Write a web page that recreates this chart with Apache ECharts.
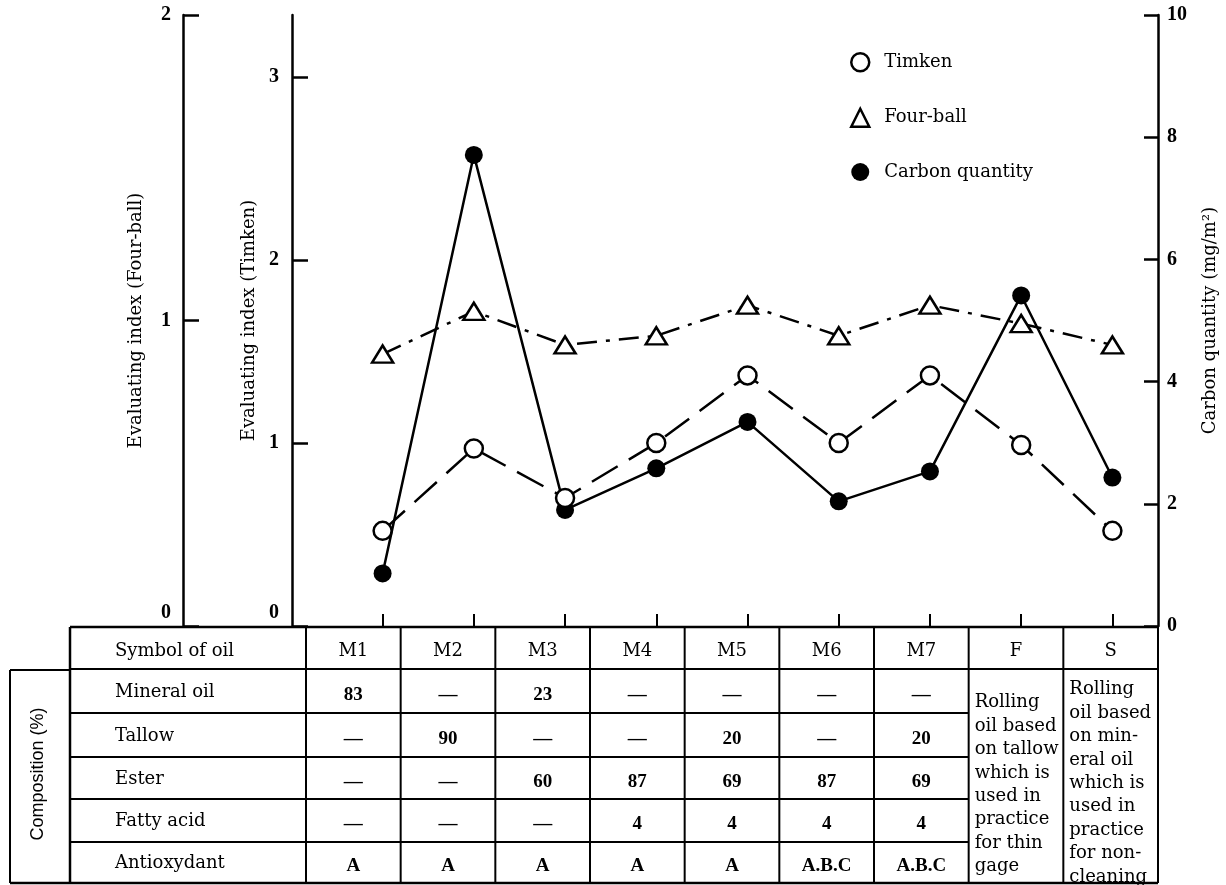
<!DOCTYPE html>
<html>
<head>
<meta charset="utf-8">
<script src="https://cdn.jsdelivr.net/npm/echarts@6/dist/echarts.min.js"></script>
<style>
  html, body { margin: 0; padding: 0; background: #fff; }
  #main { width: 1226px; height: 885px; }
</style>
</head>
<body>
<div id="main"></div>
<script>
  // data
  var oils = ['M1', 'M2', 'M3', 'M4', 'M5', 'M6', 'M7', 'F', 'S'];
  var timken = [0.52, 0.97, 0.70, 1.00, 1.37, 1.00, 1.37, 0.99, 0.52];
  var fourBall = [0.89, 1.03, 0.92, 0.95, 1.05, 0.95, 1.05, 0.99, 0.92];
  var carbon = [0.86, 7.71, 1.90, 2.58, 3.34, 2.04, 2.53, 5.41, 2.43];
  var fourBallTicks = [0, 1, 2];
  var timkenTicks = [0, 1, 2, 3];
  var carbonTicks = [0, 2, 4, 6, 8, 10];

  // composition table
  var rowNames = ['Mineral oil', 'Tallow', 'Ester', 'Fatty acid', 'Antioxydant'];
  var mineralOil = ['83', '—', '23', '—', '—', '—', '—'];
  var tallow = ['—', '90', '—', '—', '20', '—', '20'];
  var ester = ['—', '—', '60', '87', '69', '87', '69'];
  var fattyAcid = ['—', '—', '—', '4', '4', '4', '4'];
  var antioxydant = ['A', 'A', 'A', 'A', 'A', 'A.B.C', 'A.B.C'];
  var noteF = ['Rolling', 'oil based', 'on tallow', 'which is', 'used in', 'practice', 'for thin', 'gage'];
  var noteS = ['Rolling', 'oil based', 'on min-', 'eral oil', 'which is', 'used in', 'practice', 'for non-', 'cleaning'];

  var serif = '"DejaVu Serif", "Liberation Serif", serif';
  var numSerif = '"Liberation Serif", "DejaVu Serif", serif';
  var sans = '"Liberation Sans", Arial, sans-serif';

  var chart = echarts.init(document.getElementById('main'));

  // table layout
  var tbl = {
    boxLeft: 10, left: 70, labelRight: 306, right: 1158,
    rows: [627, 669, 713, 757, 799, 842, 883]
  };
  tbl.colW = (tbl.right - tbl.labelRight) / oils.length;
  function colLeft(i) { return tbl.labelRight + i * tbl.colW; }

  var g = [];
  function hline(y, x1, x2, w) {
    g.push({ type: 'line', silent: true, shape: { x1: x1, y1: y, x2: x2, y2: y }, style: { stroke: '#000', lineWidth: w || 2 } });
  }
  function vline(x, y1, y2, w) {
    g.push({ type: 'line', silent: true, shape: { x1: x, y1: y1, x2: x, y2: y2 }, style: { stroke: '#000', lineWidth: w || 2 } });
  }
  function txt(s, x, y, opt) {
    g.push({
      type: 'text', silent: true, x: x, y: y,
      style: Object.assign({ text: s, fill: '#000', fontFamily: serif, fontSize: 18, align: 'center', verticalAlign: 'middle' }, opt || {})
    });
  }

  var R = tbl.rows;
  hline(R[0], tbl.left, tbl.right, 2.5);
  hline(R[1], tbl.left, tbl.right, 2);
  for (var r = 2; r < R.length - 1; r++) hline(R[r], tbl.left, colLeft(7), 2);
  hline(R[R.length - 1], tbl.boxLeft, tbl.right, 2.5);
  hline(670, tbl.boxLeft, tbl.left, 2);
  vline(tbl.boxLeft, 670, R[R.length - 1], 2);
  vline(tbl.left, R[0], R[R.length - 1], 2.5);
  vline(tbl.labelRight, R[0], R[R.length - 1], 2);
  for (var c = 1; c <= oils.length; c++) vline(colLeft(c), R[0], R[R.length - 1], 2);

  txt('Symbol of oil', 115, (R[0] + R[1]) / 2 + 3, { align: 'left' });
  oils.forEach(function (o, i) { txt(o, colLeft(i) + tbl.colW / 2, (R[0] + R[1]) / 2 + 3); });

  var rowVals = [mineralOil, tallow, ester, fattyAcid, antioxydant];
  rowNames.forEach(function (name, k) {
    var yMid = (R[k + 1] + R[k + 2]) / 2 + 1;
    txt(name, 115, yMid, { align: 'left' });
    rowVals[k].forEach(function (v, i) {
      txt(v, colLeft(i) + tbl.colW / 2, yMid + 3, { fontFamily: numSerif, fontSize: 19, fontWeight: 'bold' });
    });
  });

  g.push({
    type: 'text', silent: true, x: 38, y: 774, rotation: Math.PI / 2,
    style: { text: 'Composition (%)', fill: '#000', fontFamily: sans, fontSize: 18, align: 'center', verticalAlign: 'middle' }
  });
  txt(noteF.join('\n'), colLeft(7) + 6, 691, { align: 'left', verticalAlign: 'top', lineHeight: 23.4 });
  txt(noteS.join('\n'), colLeft(8) + 6, 678, { align: 'left', verticalAlign: 'top', lineHeight: 23.4 });

  function zeroUp(v) { return v === 0 ? '{z|0}' : String(v); }
  var tickFont = { fontFamily: numSerif, fontSize: 20, fontWeight: 'bold', color: '#000' };
  var axisBase = {
    type: 'value', min: 0, splitLine: { show: false },
    axisLine: { show: true, lineStyle: { color: '#000', width: 2.5 } },
    axisTick: { show: true, inside: true, length: 16, lineStyle: { color: '#000', width: 2.5 } },
    nameLocation: 'middle', nameRotate: 90,
    nameTextStyle: { fontFamily: serif, fontSize: 18, color: '#000' }
  };

  var option = {
    animation: false,
    backgroundColor: '#fff',
    grid: { left: 337, right: 68, top: 15, bottom: 259, containLabel: false, outerBoundsMode: 'none' },
    xAxis: {
      type: 'category', data: oils, boundaryGap: true,
      axisLine: { show: false },
      axisTick: { show: true, inside: true, alignWithLabel: true, length: 12, lineStyle: { color: '#000', width: 2 } },
      axisLabel: { show: false },
      splitLine: { show: false }
    },
    yAxis: [
      Object.assign({}, axisBase, {
        position: 'left', offset: 154, max: 2, interval: 1,
        name: 'Evaluating index (Four-ball)', nameGap: 38,
        axisTick: Object.assign({}, axisBase.axisTick, { customValues: fourBallTicks }),
        axisLabel: Object.assign({ margin: 12, customValues: fourBallTicks, formatter: zeroUp,
          rich: { z: Object.assign({ padding: [0, 0, 26, 0] }, tickFont) } }, tickFont)
      }),
      Object.assign({}, axisBase, {
        position: 'left', offset: 45, max: 3.34, interval: 1,
        name: 'Evaluating index (Timken)', nameGap: 34,
        axisTick: Object.assign({}, axisBase.axisTick, { customValues: timkenTicks }),
        axisLabel: Object.assign({ margin: 13, customValues: timkenTicks, formatter: zeroUp,
          rich: { z: Object.assign({ padding: [0, 0, 26, 0] }, tickFont) } }, tickFont)
      }),
      Object.assign({}, axisBase, {
        position: 'right', offset: 0, max: 10, interval: 2,
        name: 'Carbon quantity (mg/m²)', nameGap: 43,
        axisTick: Object.assign({}, axisBase.axisTick, { length: 14, customValues: carbonTicks }),
        axisLabel: Object.assign({ margin: 9, customValues: carbonTicks }, tickFont)
      })
    ],
    legend: {
      orient: 'vertical', left: 845, top: 47,
      itemWidth: 18, itemHeight: 18, itemGap: 35,
      textStyle: { fontFamily: serif, fontSize: 18, color: '#000', padding: [0, 0, 0, 10] },
      data: [
        { name: 'Timken', icon: 'circle', itemStyle: { color: '#fff', borderColor: '#000', borderWidth: 2.5 } },
        { name: 'Four-ball', icon: 'triangle', itemStyle: { color: '#fff', borderColor: '#000', borderWidth: 2.5 } },
        { name: 'Carbon quantity', icon: 'circle', itemStyle: { color: '#000', borderWidth: 0 } }
      ]
    },
    series: [
      {
        name: 'Carbon quantity', type: 'line', yAxisIndex: 2, data: carbon, z: 2,
        symbol: 'circle', symbolSize: 18,
        itemStyle: { color: '#000' },
        lineStyle: { color: '#000', width: 2.5 }
      },
      {
        name: 'Timken', type: 'line', yAxisIndex: 1, data: timken, z: 3,
        symbol: 'circle', symbolSize: 18,
        itemStyle: { color: '#fff', borderColor: '#000', borderWidth: 2.5 },
        lineStyle: { color: '#000', width: 2.5, type: [30, 13] }
      },
      {
        name: 'Four-ball', type: 'line', yAxisIndex: 0, data: fourBall, z: 4,
        symbol: 'triangle', symbolSize: [21, 17],
        itemStyle: { color: '#fff', borderColor: '#000', borderWidth: 2.5 },
        lineStyle: { color: '#000', width: 2.5, type: [20, 9, 4, 9] }
      }
    ],
    graphic: g
  };

  chart.setOption(option);
</script>
</body>
</html>
